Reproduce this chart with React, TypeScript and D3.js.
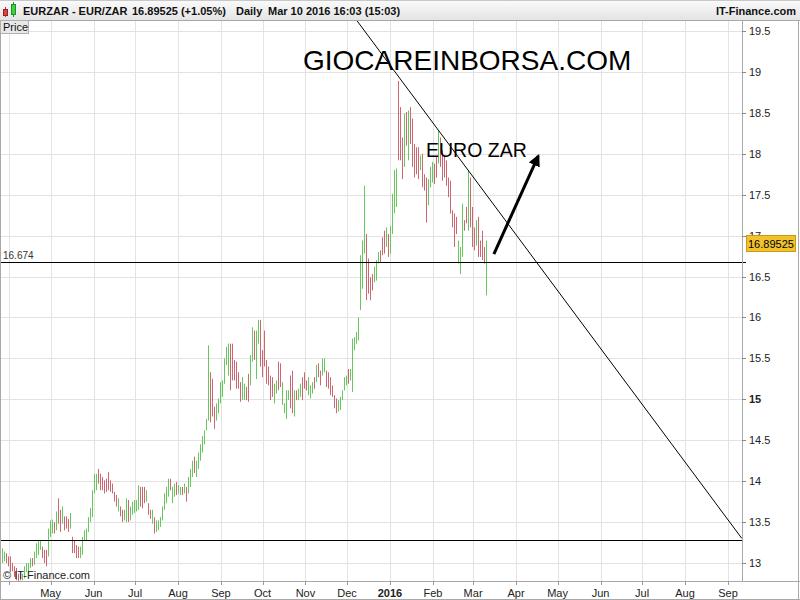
import React from "react";
import * as d3 from "d3";

const W = 800;
const H = 600;
const FONT = "'Liberation Sans', Arial, sans-serif";

// Daily high / low values (EUR/ZAR), Mar 27 2015 -> Mar 10 2016
const highs = [
  13.18,13.14,13.12,13.08,13.08,13.00,12.96,12.94,12.87,12.89,12.87,12.96,13.00,13.00,13.06,13.06,13.14,13.24,13.28,13.28,13.20,13.16,13.16,13.42,
  13.52,13.53,13.50,13.63,13.79,13.65,13.69,13.57,13.57,13.54,13.61,13.32,13.28,13.22,13.20,13.20,13.20,13.32,13.40,13.42,13.56,13.67,13.89,14.09,14.09,14.15,
  14.09,14.05,14.01,14.03,14.11,14.01,13.97,13.87,13.83,13.79,13.69,13.65,13.65,13.79,13.77,13.69,13.75,13.77,13.77,13.95,13.93,13.93,13.93,13.89,13.73,13.65,
  13.65,13.56,13.52,13.52,13.56,13.69,13.85,13.93,14.03,14.03,13.93,13.97,13.99,13.95,13.93,13.93,13.97,13.93,
  14.05,14.15,14.25,14.30,14.25,14.35,14.45,14.55,14.62,
  14.76,15.66,15.33,15.25,14.91,14.95,15.01,15.21,15.23,15.50,15.64,15.68,15.68,15.58,15.68,15.48,15.46,15.33,15.21,15.27,
  15.19,15.15,15.31,15.54,15.88,15.84,15.84,15.97,15.97,15.60,15.84,15.48,15.40,15.29,15.27,15.19,15.23,15.46,15.44,15.21,
  14.95,15.11,15.11,15.29,15.35,15.11,15.11,15.13,15.19,15.27,15.33,15.23,15.27,15.17,15.21,15.27,15.42,15.44,15.35,15.50,
  15.50,15.35,15.33,15.27,15.17,15.05,15.01,14.99,15.03,15.11,15.27,15.29,15.37,15.37,15.74,15.76,15.82,16.00,
  16.76,16.94,17.61,17.02,16.72,16.49,16.53,16.62,16.70,16.78,16.80,16.82,16.98,17.06,17.10,17.02,17.12,17.51,17.80,17.82,
  18.89,18.57,18.20,18.49,18.51,18.53,18.57,18.43,18.12,18.08,18.08,17.98,18.00,17.75,17.71,17.69,17.84,17.90,17.88,17.96,
  18.28,18.20,18.04,17.98,17.92,17.71,17.67,17.31,17.27,17.23,16.94,16.86,17.39,17.19,17.35,17.80,17.71,17.35,17.10,17.19,
  17.23,16.94,17.06,16.86,16.94,
];
const lows = [
  13.00,13.02,13.00,12.96,12.89,12.90,12.83,12.79,12.77,12.79,12.79,12.81,12.89,12.87,12.94,12.96,12.98,13.06,13.10,13.16,13.06,13.00,12.96,13.08,
  13.32,13.36,13.36,13.40,13.48,13.38,13.48,13.40,13.42,13.38,13.42,13.12,13.12,13.06,13.06,13.06,13.10,13.12,13.28,13.28,13.38,13.50,13.56,13.85,13.89,13.97,
  13.89,13.89,13.85,13.87,13.89,13.87,13.85,13.75,13.69,13.63,13.57,13.50,13.52,13.50,13.50,13.52,13.59,13.61,13.63,13.65,13.69,13.67,13.73,13.75,13.59,13.54,
  13.48,13.36,13.38,13.40,13.44,13.52,13.65,13.73,13.81,13.89,13.73,13.81,13.83,13.85,13.83,13.83,13.85,13.75,
  13.85,13.93,14.05,14.10,14.05,14.15,14.25,14.35,14.45,
  14.62,14.74,14.72,14.79,14.64,14.74,14.83,14.95,15.03,15.19,15.42,15.29,15.31,15.11,15.23,15.23,15.13,15.13,14.97,14.99,
  14.99,14.99,14.97,15.17,15.46,15.48,15.25,15.68,15.40,15.27,15.40,15.19,15.17,14.99,15.03,14.95,15.07,15.11,15.15,14.93,
  14.83,14.76,14.99,14.89,14.83,14.79,14.99,14.99,15.03,14.99,15.13,15.11,15.05,15.01,15.07,15.13,15.21,15.27,15.17,15.29,
  15.33,15.15,15.13,15.05,15.03,14.89,14.83,14.85,14.87,14.99,15.11,15.17,15.19,15.23,15.09,15.60,15.68,15.72,
  16.09,16.35,16.78,16.21,16.29,16.21,16.33,16.43,16.45,16.66,16.68,16.68,16.76,16.78,16.86,16.74,16.78,17.02,17.27,17.35,
  17.92,17.92,17.69,17.84,18.10,17.92,18.12,17.84,17.71,17.75,17.69,17.80,17.59,17.55,17.16,17.37,17.59,17.65,17.63,17.71,
  17.88,17.84,17.67,17.71,17.61,17.47,17.27,17.10,16.86,17.02,16.66,16.53,16.74,17.06,17.15,17.06,17.10,16.86,16.82,16.88,
  16.74,16.74,16.70,16.66,16.27,
];
// G = up day (green), R = down day (red)
const dirs =
  "GGRRRRRRRRGGGGGRGGGGRRRG" +
  "GGRGRRGRRR" + "GRRRRGGGGG" + "GGGGGRRRRR" + "RRRRRGRRGG" + "RGGGGGRRRG" + "RRGRGGGGGG" + "GRGGRGGRGR" +
  "GGGRGGGGG" +
  "GGRRRGGGGG" + "GGRRRRRRRG" + "GRRGGRGGRR" + "RRRRRGGRRG" + "GGGRRGRGGR" + "RRGGGRGRRG" + "GRRRRRRGGG" + "GGRGGGGG" +
  "GGGRRRRGGG" + "GRRRGRGGGG" + "RRRGRGRRRR" + "RGRRRGGGRR" + "GRRRRRRRRR" + "GGGRRGRRRG" + "RRRRG";

const firstDate = new Date(2015, 2, 27);
const lastDate = new Date(2016, 2, 10);

const yTicks = [13, 13.5, 14, 14.5, 15, 15.5, 16, 16.5, 17, 17.5, 18, 18.5, 19, 19.5];
const boldYTick = 15;
const monthTicks = [
  new Date(2015, 3, 1), new Date(2015, 4, 1), new Date(2015, 5, 1), new Date(2015, 6, 1), new Date(2015, 7, 1),
  new Date(2015, 8, 1), new Date(2015, 9, 1), new Date(2015, 10, 1), new Date(2015, 11, 1), new Date(2016, 0, 1),
  new Date(2016, 1, 1), new Date(2016, 2, 1), new Date(2016, 3, 1), new Date(2016, 4, 1), new Date(2016, 5, 1),
  new Date(2016, 6, 1), new Date(2016, 7, 1), new Date(2016, 8, 1),
];
const monthLabels = ["", "May", "Jun", "Jul", "Aug", "Sep", "Oct", "Nov", "Dec", "2016", "Feb", "Mar", "Apr", "May", "Jun", "Jul", "Aug", "Sep"];

const hLines = [16.674, 13.28];
const hLineLabel = "16.674";
const lastPrice = 16.89525;
const trendStart = { date: new Date(2015, 11, 8), price: 19.63 };
const trendEnd = { date: new Date(2016, 8, 11), price: 13.3 };
const arrowStart = { date: new Date(2016, 2, 16), price: 16.775 };
const arrowEnd = { date: new Date(2016, 3, 17), price: 17.97 };

export default function App() {
  const plotL = 1, plotR = 742, plotT = 20, plotB = 581;
  const x = d3.scaleTime().domain([new Date(2015, 3, 1), new Date(2016, 8, 1)]).range([9, 728]);
  const y = d3.scaleLinear().domain([13, 19.5]).range([563, 31]);
  const n = Math.min(highs.length, lows.length, dirs.length);
  const xi = d3.scaleLinear().domain([0, n - 1]).range([x(firstDate), x(lastDate)]);
  const bars = d3.range(n);
  const green = "#66c85a";
  const red = "#cc6670";
  const grid = "#e3e3e3";

  const trendLine = d3.line<{ date: Date; price: number }>().x(d => x(d.date)).y(d => y(d.price));

  return (
    <svg width={W} height={H} style={{ position: "absolute", left: 0, top: 0, background: "#fff" }} fontFamily={FONT}>
      <defs>
        <linearGradient id="hdr" x1="0" y1="0" x2="0" y2="1">
          <stop offset="0" stopColor="#fbfbfb" />
          <stop offset="1" stopColor="#e4e4e4" />
        </linearGradient>
        <clipPath id="plot">
          <rect x={plotL} y={plotT} width={plotR - plotL} height={plotB - plotT} />
        </clipPath>
        <clipPath id="lbl17">
          <rect x={plotR} y={plotT} width={W - plotR} height={Math.round(y(lastPrice)) - 9 - plotT} />
        </clipPath>
        <marker id="ah" viewBox="0 0 10 10" refX="8" refY="5" markerWidth="4" markerHeight="4" orient="auto">
          <path d="M0,0 L10,5 L0,10 z" fill="#000" />
        </marker>
      </defs>
      <rect x={0} y={0} width={W} height={H} fill="#fff" />
      {/* grid */}
      <g clipPath="url(#plot)">
        {yTicks.map(v => (
          <line key={"gy" + v} x1={plotL} x2={plotR} y1={Math.round(y(v)) + 0.5} y2={Math.round(y(v)) + 0.5} stroke={grid} />
        ))}
        {monthTicks.map((d, i) => (
          <line key={"gx" + i} x1={Math.round(x(d)) + 0.5} x2={Math.round(x(d)) + 0.5} y1={plotT} y2={plotB} stroke={grid} />
        ))}
      </g>
      {/* bars */}
      <g clipPath="url(#plot)">
        {bars.map(i => {
          const bx = Math.round(xi(i) / 2) * 2 + 0.5;
          return (
            <line key={"b" + i} x1={bx} x2={bx} y1={y(highs[i])} y2={y(lows[i])}
              stroke={dirs[i] === "G" ? green : red} strokeWidth={1} />
          );
        })}
        {hLines.map(v => (
          <line key={"h" + v} x1={plotL} x2={plotR + 4} y1={Math.round(y(v)) + 0.5} y2={Math.round(y(v)) + 0.5} stroke="#000" strokeWidth={1} />
        ))}
        <path d={trendLine([trendStart, trendEnd]) || ""} stroke="#000" strokeWidth={1} fill="none" />
      </g>
      <line x1={plotR} x2={plotR + 4} y1={Math.round(y(hLines[0])) + 0.5} y2={Math.round(y(hLines[0])) + 0.5} stroke="#000" />
      <text x={3} y={y(hLines[0]) - 3} fontSize={10} fill="#333">{hLineLabel}</text>
      {/* annotations */}
      <text x={303} y={70} fontSize={28} fill="#000">GIOCAREINBORSA.COM</text>
      <text x={426} y={157} fontSize={19.5} fill="#000">EURO ZAR</text>
      <line x1={x(arrowStart.date)} y1={y(arrowStart.price)} x2={x(arrowEnd.date)} y2={y(arrowEnd.price)}
        stroke="#000" strokeWidth={3} markerEnd="url(#ah)" />
      <text x={3} y={579} fontSize={11} fill="#222">© IT-Finance.com</text>
      {/* frame */}
      <line x1={plotR + 0.5} x2={plotR + 0.5} y1={plotT} y2={plotB} stroke="#a8a8a8" />
      <line x1={0} x2={W} y1={plotB + 0.5} y2={plotB + 0.5} stroke="#a8a8a8" />
      <line x1={0.5} x2={0.5} y1={0} y2={H} stroke="#a8a8a8" />
      <line x1={W - 1.5} x2={W - 1.5} y1={0} y2={H} stroke="#a8a8a8" />
      <line x1={0} x2={W} y1={H - 0.5} y2={H - 0.5} stroke="#a8a8a8" />
      {/* right axis */}
      {yTicks.map(v => {
        const hidden = Math.abs(y(v) - y(lastPrice)) < 12;
        return (
          <g key={"yt" + v}>
            <line x1={plotR} x2={plotR + 4} y1={Math.round(y(v)) + 0.5} y2={Math.round(y(v)) + 0.5} stroke="#888" />
            <text x={plotR + 7} y={y(v) + 4} fontSize={11} fill="#222" fontWeight={v === boldYTick ? "bold" : "normal"}
              clipPath={hidden ? "url(#lbl17)" : undefined}>
              {d3.format("")(v)}
            </text>
          </g>
        );
      })}
      <rect x={746.5} y={Math.round(y(lastPrice)) - 8.5} width={49} height={16} fill="#f2c22c" stroke="#c99a10" />
      <text x={748} y={y(lastPrice) + 4} fontSize={11} fill="#000">{lastPrice.toFixed(5)}</text>
      {/* bottom axis */}
      {monthTicks.map((d, i) => (
        <g key={"xt" + i}>
          <line x1={Math.round(x(d)) + 0.5} x2={Math.round(x(d)) + 0.5} y1={plotB} y2={plotB + 4} stroke="#999" />
          {monthLabels[i] && (
            <text x={x(d)} y={597} fontSize={11} fill="#222" textAnchor="middle" fontWeight={monthLabels[i] === "2016" ? "bold" : "normal"}>
              {monthLabels[i]}
            </text>
          )}
        </g>
      ))}
      {/* header */}
      <rect x={0} y={0} width={W} height={20} fill="url(#hdr)" />
      <line x1={0} x2={W} y1={20.5} y2={20.5} stroke="#a8a8a8" />
      <line x1={0} x2={W} y1={0.5} y2={0.5} stroke="#c8c8c8" />
      <g>
        <line x1={5.5} x2={5.5} y1={7} y2={17} stroke="#b03030" />
        <rect x={3.5} y={9.5} width={4} height={6} fill="#e04040" stroke="#a02020" />
        <line x1={13.5} x2={13.5} y1={2} y2={17} stroke="#309030" />
        <rect x={11.5} y={4.5} width={4} height={10} fill="#40d040" stroke="#209020" />
      </g>
      <text x={23} y={15} fontSize={11} fontWeight="bold" fill="#111">EURZAR - EUR/ZAR</text>
      <text x={132} y={15} fontSize={11} fontWeight="bold" fill="#111">16.89525 (+1.05%)</text>
      <text x={236} y={15} fontSize={11} fontWeight="bold" fill="#111">Daily</text>
      <text x={268} y={15} fontSize={11} fontWeight="bold" fill="#111">Mar 10 2016 16:03 (15:03)</text>
      <text x={796} y={15} fontSize={11} fontWeight="bold" fill="#111" textAnchor="end">IT-Finance.com</text>
      {/* price tab */}
      <rect x={0.5} y={20.5} width={28} height={13} fill="#e8e8e8" stroke="#b0b0b0" />
      <text x={3} y={31} fontSize={11} fill="#111">Price</text>
    </svg>
  );
}
